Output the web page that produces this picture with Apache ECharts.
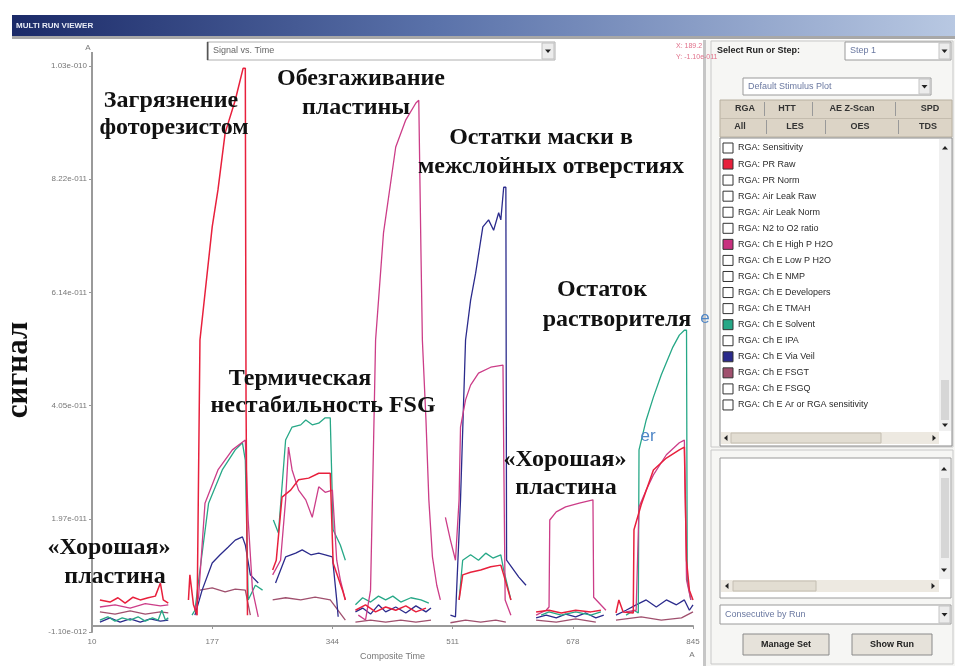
<!DOCTYPE html>
<html><head><meta charset="utf-8">
<script src="https://cdn.jsdelivr.net/npm/echarts@6/dist/echarts.min.js"></script>
<style>html,body{margin:0;padding:0;background:#fff}#c{width:955px;height:666px}</style>
</head><body><div id="c"></div>
<script>
// ---------- DATA (time in composite units, signal in units of 1e-11) ----------
const xTicks = [10, 177, 344, 511, 678, 845];
const yTickLabels = ['-1.10e-012', '1.97e-011', '4.05e-011', '6.14e-011', '8.22e-011', '1.03e-010'];
const yMin = -0.11, yMax = 10.3;

const prRaw = [
 [21,0.48],[35,0.44],[46,0.52],[56,0.42],[67,0.53],[77,0.48],[88,0.52],[98,0.55],[105,0.79],[109,0.48],[116,0.42],[130,'-'],
 [144,0.48],[146,0.94],[151,0.39],[156,0.20],[160,5.26],[177,7.34],[185,8.02],[195,9.07],[209,9.67],[220,10.26],[223,10.26],[224,4.16],[226,0.20],[245,'-'],
 [261,1.03],[266,1.21],[274,2.37],[286,2.50],[297,2.69],[311,2.72],[325,2.81],[341,2.81],[345,1.16],[358,0.66],[362,0.48],[370,'-'],
 [376,0.29],[390,0.39],[404,0.26],[418,0.35],[432,0.29],[446,0.37],[460,0.26],[474,0.33],[500,'-'],
 [520,0.48],[525,0.94],[536,0.99],[550,1.03],[564,1.09],[578,1.12],[582,0.94],[592,0.48],[610,'-'],
 [627,0.26],[645,0.29],[662,0.24],[682,0.29],[703,0.26],[717,0.29],[730,'-'],
 [738,0.24],[742,0.48],[748,0.26],[762,0.24],[763,1.77],[773,2.23],[790,2.87],[808,3.09],[826,3.24],[833,3.29],[836,1.21],[840,0.66],[845,0.48]
];
const highPH2O = [
 [21,0.35],[42,0.39],[63,0.33],[84,0.41],[105,0.37],[116,0.39],[130,'-'],
 [153,0.29],[158,0.53],[167,2.26],[185,2.87],[205,3.24],[223,3.42],[227,1.95],[233,0.66],[241,0.17],[250,'-'],
 [261,0.94],[272,1.21],[279,2.32],[283,3.29],[288,2.87],[297,2.50],[307,2.32],[316,2.00],[325,2.56],[334,2.46],[344,2.50],[350,1.21],[355,0.85],[362,0.48],[370,'-'],
 [380,0.20],[390,0.11],[397,0.66],[401,3.24],[404,5.26],[415,7.23],[432,8.81],[446,9.31],[460,9.62],[464,9.67],[467,6.91],[469,5.26],[474,3.79],[478,2.32],[483,1.27],[489,0.75],[494,0.48],[498,'-'],
 [501,2.00],[508,1.58],[515,1.21],[520,2.32],[522,3.66],[529,4.16],[536,4.43],[547,4.65],[564,4.76],[581,4.80],[582,3.24],[584,0.48],[592,0.20],[610,'-'],
 [627,0.20],[641,0.29],[645,0.35],[646,1.95],[655,2.10],[668,2.19],[687,2.26],[706,2.32],[707,0.53],[724,0.29],[740,'-'],
 [752,0.26],[766,0.29],[770,2.19],[780,2.50],[790,2.78],[808,3.15],[826,3.37],[833,3.42],[836,0.85],[842,0.48]
];
const solvent = [
 [21,0.11],[32,0.17],[42,0.09],[52,0.15],[63,0.11],[74,0.17],[84,0.09],[94,0.15],[102,0.11],[107,0.29],[112,0.11],[116,0.15],[130,'-'],
 [149,0.20],[153,0.29],[160,1.03],[172,2.26],[191,2.87],[209,3.24],[219,3.37],[223,3.05],[227,0.48],[237,0.75],[247,0.66],[255,'-'],
 [262,1.95],[269,1.71],[279,3.42],[288,3.66],[300,3.70],[307,3.79],[316,3.70],[325,3.73],[334,3.83],[341,3.83],[345,1.77],[355,1.49],[362,1.21],[370,'-'],
 [376,0.39],[386,0.52],[397,0.44],[408,0.55],[418,0.48],[428,0.55],[439,0.44],[453,0.52],[467,0.48],[478,0.42],[500,'-'],
 [520,0.48],[525,1.21],[536,1.31],[547,1.21],[557,1.34],[567,1.25],[578,1.31],[582,1.03],[592,0.48],[610,'-'],
 [634,0.20],[645,0.26],[662,0.20],[682,0.26],[703,0.20],[717,0.26],[740,'-'],
 [752,0.20],[763,0.29],[769,0.24],[770,3.24],[780,3.79],[790,4.21],[801,4.62],[817,5.13],[826,5.35],[833,5.44],[836,5.44],[837,0.85],[842,0.48]
];
const viaVeil = [
 [21,0.07],[35,0.15],[49,0.07],[63,0.13],[77,0.07],[91,0.13],[105,0.09],[116,0.11],[130,'-'],
 [153,0.20],[163,0.66],[177,1.16],[188,1.31],[199,1.45],[209,1.58],[219,1.64],[223,1.49],[230,0.94],[241,0.79],[255,'-'],
 [265,0.79],[279,1.27],[293,1.34],[302,1.40],[314,1.31],[325,1.34],[334,1.31],[344,1.27],[350,0.48],[352,0.17],[370,'-'],
 [376,0.26],[386,0.33],[397,0.22],[408,0.39],[418,0.26],[432,0.35],[446,0.24],[460,0.37],[474,0.26],[481,0.33],[500,'-'],
 [508,0.20],[515,0.17],[522,2.32],[529,5.26],[536,5.99],[543,6.49],[553,7.34],[561,7.47],[568,7.28],[575,7.60],[578,7.47],[582,8.07],[585,8.07],[586,1.21],[603,0.90],[613,0.75],[620,'-'],
 [627,0.15],[641,0.20],[655,0.15],[668,0.22],[682,0.17],[696,0.24],[710,0.15],[721,0.20],[730,'-'],
 [738,0.20],[752,0.29],[766,0.39],[780,0.48],[794,0.35],[808,0.48],[822,0.39],[833,0.48],[840,0.29],[845,0.39]
];
const fsgt = [
 [21,0.26],[42,0.22],[63,0.28],[84,0.22],[105,0.26],[116,0.24],[130,'-'],
 [160,0.66],[177,0.70],[195,0.63],[209,0.68],[223,0.66],[230,0.20],[250,'-'],
 [261,0.48],[279,0.52],[300,0.48],[320,0.53],[341,0.48],[362,0.11],[370,'-'],
 [376,0.07],[397,0.11],[418,0.07],[439,0.11],[460,0.07],[481,0.11],[500,'-'],
 [508,0.06],[529,0.11],[550,0.07],[571,0.11],[585,0.07],[610,'-'],
 [627,0.11],[655,0.07],[682,0.13],[710,0.07],[730,'-'],
 [738,0.11],[773,0.17],[801,0.11],[829,0.15],[845,0.26]
];

const seriesNames = ['RGA: Ch E FSGT', 'RGA: Ch E Via Veil', 'RGA: Ch E Solvent', 'RGA: Ch E High P H2O', 'RGA: PR Raw'];
const seriesData = [fsgt, viaVeil, solvent, highPH2O, prRaw];
const seriesColors = ['#a0506e', '#2b2b8c', '#27a887', '#cc3d88', '#e8203c'];

const listItems = ['RGA: Sensitivity','RGA: PR Raw','RGA: PR Norm','RGA: Air Leak Raw','RGA: Air Leak Norm','RGA: N2 to O2 ratio',
 'RGA: Ch E High P H2O','RGA: Ch E Low P H2O','RGA: Ch E NMP','RGA: Ch E Developers','RGA: Ch E TMAH','RGA: Ch E Solvent',
 'RGA: Ch E IPA','RGA: Ch E Via Veil','RGA: Ch E FSGT','RGA: Ch E FSGQ','RGA: Ch E Ar or RGA sensitivity'];

// ---------- helpers ----------
const UI = 'Arial, "Liberation Sans", sans-serif';
const SERIF = '"Liberation Serif", "DejaVu Serif", serif';
function T(x, y, s, o) {
  o = o || {};
  return { type: 'text', x: x, y: y, rotation: o.rot || 0, z: o.z || 100,
    style: { text: s, x: 0, y: 0, fill: o.fill || '#333', fontSize: o.size || 9, fontFamily: o.font || UI,
      fontWeight: o.weight || 'normal', align: o.align || 'left', verticalAlign: 'middle',
      textAlign: o.align || 'left', textVerticalAlign: 'middle' } };
}
function R(x, y, w, h, fill, stroke, z) {
  return { type: 'rect', z: z || 50, shape: { x: x, y: y, width: w, height: h },
    style: { fill: fill || 'none', stroke: stroke || null, lineWidth: 1 } };
}
function down(cx, cy, z) {
  return { type: 'polygon', z: z || 110, shape: { points: [[cx - 3, cy - 1.5], [cx + 3, cy - 1.5], [cx, cy + 2]] }, style: { fill: '#222' } };
}
function up(cx, cy) {
  return { type: 'polygon', z: 110, shape: { points: [[cx - 3, cy + 1.5], [cx + 3, cy + 1.5], [cx, cy - 2]] }, style: { fill: '#222' } };
}
function leftA(cx, cy) {
  return { type: 'polygon', z: 110, shape: { points: [[cx + 1.5, cy - 3], [cx + 1.5, cy + 3], [cx - 2, cy]] }, style: { fill: '#222' } };
}
function rightA(cx, cy) {
  return { type: 'polygon', z: 110, shape: { points: [[cx - 1.5, cy - 3], [cx - 1.5, cy + 3], [cx + 2, cy]] }, style: { fill: '#222' } };
}
function combo(x, y, w, h, label, color) {
  return [R(x, y, w, h, '#fff', '#9a9a9a', 60), R(x + w - 12, y + 1, 11, h - 2, '#ececec', '#c4c4c4', 61),
    down(x + w - 6.5, y + h / 2), T(x + 5, y + h / 2, label, { fill: color || '#6a78a0' })];
}

const g = [];
// title bar
g.push({ type: 'rect', z: 40, shape: { x: 12, y: 15, width: 943, height: 21 },
  style: { fill: new echarts.graphic.LinearGradient(0, 0, 1, 0, [
    { offset: 0, color: '#1b2a68' }, { offset: 0.45, color: '#5a72aa' }, { offset: 1, color: '#b8c8e2' }]) } });
g.push(R(12, 36, 943, 3, '#a8a8a8', null, 41));
g.push(T(16, 26, 'MULTI RUN VIEWER', { fill: '#e8ecf6', size: 8, weight: 'bold' }));
// chart header
g.push(T(88, 48, 'A', { fill: '#777', size: 8, align: 'center' }));
g.push(T(692, 655, 'A', { fill: '#777', size: 8, align: 'center' }));
g.push(R(207, 42, 348, 18, '#fff', '#b0b0b0', 60));
g.push(R(207, 42, 1.5, 18, '#555', null, 61));
g.push(R(542, 43, 12, 16, '#ececec', '#c0c0c0', 61));
g.push(down(548, 51));
g.push(T(213, 51, 'Signal vs. Time', { fill: '#666', size: 9 }));
g.push(T(676, 46, 'X: 189.2', { fill: '#e0708a', size: 7 }));
g.push(T(676, 57, 'Y: -1.10e-011', { fill: '#e0708a', size: 7 }));
g.push({ type: 'line', z: 60, shape: { x1: 92, y1: 52, x2: 92, y2: 66 }, style: { stroke: '#9a9a9a', lineWidth: 2 } });

// right panel
g.push(R(703, 40, 252, 626, '#f6f6f4', null, 30));
g.push(R(703, 40, 3, 626, '#c6c6c6', null, 31));
g.push(R(711, 41, 242, 406, 'none', '#c8c8c8', 32));
g.push(R(711, 450, 242, 214, 'none', '#c8c8c8', 32));
g.push(T(717, 51, 'Select Run or Step:', { fill: '#222', size: 9, weight: 'bold' }));
combo(845, 42, 106, 18, 'Step 1').forEach(e => g.push(e));
combo(743, 78, 188, 17, 'Default Stimulus Plot').forEach(e => g.push(e));
// tabs
g.push(R(720, 100, 232, 37, '#dcd4c6', '#b8b0a0', 55));
g.push(R(720, 118, 232, 1, '#c4bcae', null, 56));
[['RGA', 745], ['HTT', 787], ['AE Z-Scan', 852], ['SPD', 930]].forEach(a => g.push(T(a[1], 109, a[0], { fill: '#333', size: 9, weight: 'bold', align: 'center' })));
[['All', 740], ['LES', 795], ['OES', 860], ['TDS', 928]].forEach(a => g.push(T(a[1], 127, a[0], { fill: '#333', size: 9, weight: 'bold', align: 'center' })));
[764, 812, 895].forEach(x => g.push(R(x, 102, 1, 14, '#999', null, 57)));
[766, 825, 898].forEach(x => g.push(R(x, 120, 1, 14, '#999', null, 57)));
// list box
g.push(R(720, 138, 232, 308, '#fff', '#8a8a8a', 55));
const checkedColors = { 'RGA: PR Raw': '#e8203c', 'RGA: Ch E High P H2O': '#c8307f', 'RGA: Ch E Solvent': '#27a887',
  'RGA: Ch E Via Veil': '#2b2b8c', 'RGA: Ch E FSGT': '#a0506e' };
listItems.forEach((name, i) => {
  const y = 148 + i * 16.06;
  g.push(R(723, y - 5, 10, 10, checkedColors[name] || '#fff', '#333', 60));
  g.push(T(738, y, name, { fill: '#2a2a2a', size: 9 }));
});
g.push(R(939, 139, 12, 292, '#f0f0f0', null, 58));
g.push(up(945, 148));
g.push(R(941, 380, 8, 40, '#d6d6d6', null, 59));
g.push(down(945, 425));
g.push(R(721, 432, 218, 12, '#ede9e1', null, 58));
g.push(R(731, 433, 150, 10, '#e2ddd2', '#c4beb2', 59));
g.push(leftA(726, 438));
g.push(rightA(934, 438));
// second box
g.push(R(720, 458, 231, 140, '#fff', '#9a9a9a', 55));
g.push(R(939, 459, 11, 120, '#f0f0f0', null, 58));
g.push(up(944, 469));
g.push(R(941, 478, 8, 80, '#d6d6d6', null, 59));
g.push(down(944, 570));
g.push(R(721, 580, 218, 12, '#ede9e1', null, 58));
g.push(R(733, 581, 83, 10, '#e2ddd2', '#c4beb2', 59));
g.push(leftA(727, 586));
g.push(rightA(933, 586));
combo(720, 605, 231, 19, 'Consecutive by Run').forEach(e => g.push(e));
g.push(R(743, 634, 86, 21, '#e6e2da', '#8a8a8a', 60));
g.push(T(786, 645, 'Manage Set', { fill: '#222', size: 9, weight: 'bold', align: 'center' }));
g.push(R(852, 634, 80, 21, '#e6e2da', '#8a8a8a', 60));
g.push(T(892, 645, 'Show Run', { fill: '#222', size: 9, weight: 'bold', align: 'center' }));

// annotations
const A = { font: SERIF, weight: 'bold', size: 24, fill: '#111', align: 'center', z: 200 };
[['Загрязнение', 171, 101], ['фоторезистом', 174, 128], ['Обезгаживание', 361, 79], ['пластины', 356, 108],
 ['Остатки маски в', 541, 138], ['межслойных отверстиях', 551, 167], ['Остаток', 602, 290], ['растворителя', 617, 320],
 ['Термическая', 300, 379], ['нестабильность FSG', 323, 406], ['«Хорошая»', 109, 548], ['пластина', 115, 577],
 ['«Хорошая»', 565, 460], ['пластина', 566, 488]].forEach(a => g.push(T(a[1], a[2], a[0], A)));
g.push(T(19, 370, 'сигнал', { font: SERIF, weight: 'bold', size: 31, fill: '#111', align: 'center', rot: Math.PI / 2, z: 200 }));
g.push(T(705, 318, 'e', { fill: '#4f86c6', size: 17, align: 'center', z: 200 }));
g.push(T(648, 436, 'er', { fill: '#4f86c6', size: 17, align: 'center', z: 200 }));

const chart = echarts.init(document.getElementById('c'), null, { renderer: 'canvas' });
chart.setOption({
  animation: false,
  backgroundColor: '#fff',
  grid: { left: 92, right: 262, top: 66, bottom: 34 },
  xAxis: {
    type: 'value', min: xTicks[0], max: xTicks[xTicks.length - 1], interval: xTicks[1] - xTicks[0],
    name: 'Composite Time', nameLocation: 'middle', nameGap: 20,
    nameTextStyle: { fontSize: 9, color: '#777', fontFamily: UI },
    axisLine: { lineStyle: { color: '#9a9a9a', width: 2 } },
    axisTick: { show: true, length: 3, lineStyle: { color: '#999' } },
    axisLabel: { fontSize: 8, color: '#777', fontFamily: UI, margin: 6 },
    splitLine: { show: false }
  },
  yAxis: {
    type: 'value', min: yMin, max: yMax, interval: (yMax - yMin) / 5,
    axisLine: { show: true, lineStyle: { color: '#9a9a9a', width: 2 } },
    axisTick: { show: true, length: 3, lineStyle: { color: '#999' } },
    axisLabel: { fontSize: 8, color: '#777', fontFamily: UI, margin: 5,
      formatter: v => yTickLabels[Math.round((v - yMin) / ((yMax - yMin) / 5))] || '' },
    splitLine: { show: false }
  },
  series: seriesData.map((d, i) => ({
    name: seriesNames[i], type: 'line', data: d, showSymbol: false, connectNulls: false,
    lineStyle: { width: i === 4 ? 1.5 : 1.3, color: seriesColors[i] }, itemStyle: { color: seriesColors[i] }, z: 10 + i
  })),
  graphic: g
});
</script></body></html>
